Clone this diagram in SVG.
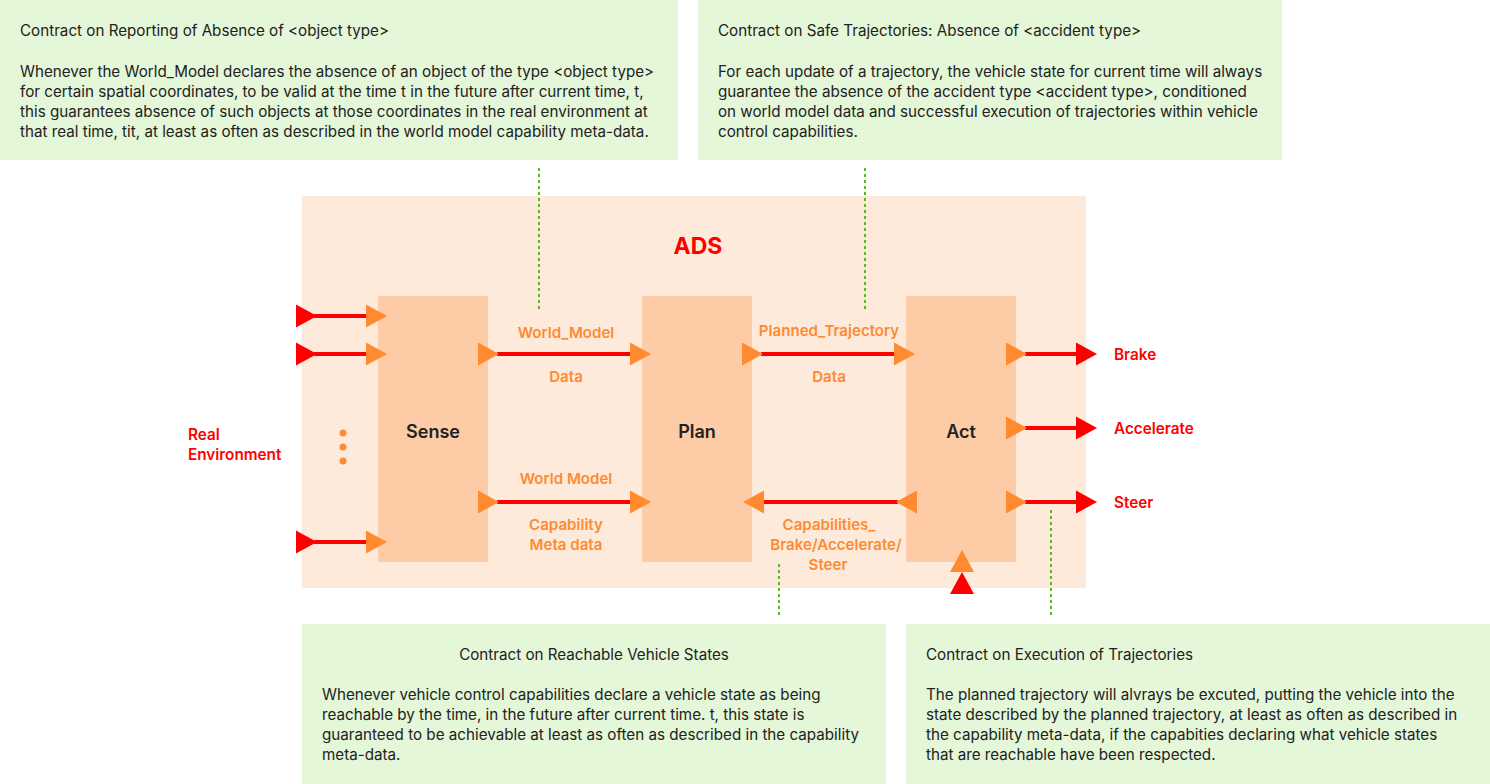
<svg xmlns="http://www.w3.org/2000/svg" xmlns:xlink="http://www.w3.org/1999/xlink" width="1490" height="784" viewBox="0 0 1490 784">
<style>
.note{fill:#e4f7d8}
.ntx{font-family:Inter,"Noto Sans","Liberation Sans",sans-serif;font-size:15.2px;fill:#222222}
.outer{fill:#fdeadb}
.blk{fill:#fdcba5}
.blab{font-family:Inter,"Noto Sans","Liberation Sans",sans-serif;font-size:18px;font-weight:600;fill:#222222;text-anchor:middle}
.olab{font-family:Inter,"Noto Sans","Liberation Sans",sans-serif;font-size:15.1px;font-weight:600;fill:#ff8a30;text-anchor:middle}
.rlab{font-family:Inter,"Noto Sans","Liberation Sans",sans-serif;font-size:15.3px;font-weight:600;fill:#ff0000}
.ln{stroke:#ff0000;stroke-width:4;fill:none}
.dot{stroke:#5cb82a;stroke-width:2;stroke-dasharray:3 3;fill:none}
.or{fill:#ff8a30}
.rd{fill:#ff0000}
</style>
<defs>
<path id="tR" d="M0,-11.5 L21,0 L0,11.5 Z"/>
<path id="tL" d="M0,-11.5 L-21,0 L0,11.5 Z"/>
<path id="tU" d="M-12,0 L0,-22 L12,0 Z"/>
</defs>

<g id="contract-reporting">
<rect class="note" x="0" y="0" width="678" height="160"/>
<text class="ntx" x="20" y="36">Contract on Reporting of Absence of &lt;object type&gt;</text>
<text class="ntx" x="20" y="77">Whenever the World_Model declares the absence of an object of the type &lt;object type&gt;</text>
<text class="ntx" x="20" y="97">for certain spatial coordinates, to be valid at the time t in the future after current time, t,</text>
<text class="ntx" x="20" y="117">this guarantees absence of such objects at those coordinates in the real environment at</text>
<text class="ntx" x="20" y="137">that real time, tit, at least as often as described in the world model capability meta-data.</text>
</g>

<g id="contract-safe">
<rect class="note" x="698" y="0" width="584" height="160"/>
<text class="ntx" x="718" y="36">Contract on Safe Trajectories: Absence of &lt;accident type&gt;</text>
<text class="ntx" x="718" y="77">For each update of a trajectory, the vehicle state for current time will always</text>
<text class="ntx" x="718" y="97">guarantee the absence of the accident type &lt;accident type&gt;, conditioned</text>
<text class="ntx" x="718" y="117">on world model data and successful execution of trajectories within vehicle</text>
<text class="ntx" x="718" y="137">control capabilities.</text>
</g>

<g id="contract-reachable">
<rect class="note" x="302" y="624" width="584" height="160"/>
<text class="ntx" x="594" y="660" text-anchor="middle">Contract on Reachable Vehicle States</text>
<text class="ntx" x="322" y="700">Whenever vehicle control capabilities declare a vehicle state as being</text>
<text class="ntx" x="322" y="720">reachable by the time, in the future after current time. t, this state is</text>
<text class="ntx" x="322" y="740">guaranteed to be achievable at least as often as described in the capability</text>
<text class="ntx" x="322" y="760">meta-data.</text>
</g>

<g id="contract-execution">
<rect class="note" x="906" y="624" width="584" height="160"/>
<text class="ntx" x="926" y="660">Contract on Execution of Trajectories</text>
<text class="ntx" x="926" y="700">The planned trajectory will alvrays be excuted, putting the vehicle into the</text>
<text class="ntx" x="926" y="720">state described by the planned trajectory, at least as often as described in</text>
<text class="ntx" x="926" y="740">the capability meta-data, if the capabities declaring what vehicle states</text>
<text class="ntx" x="926" y="760">that are reachable have been respected.</text>
</g>

<g id="ads">
<rect class="outer" x="302" y="196" width="784" height="392"/>
<text x="698" y="254" text-anchor="middle" style="font-family:Inter,'Noto Sans','Liberation Sans',sans-serif;font-size:23px;font-weight:700;fill:#ff0000">ADS</text>
</g>

<g id="sense">
<rect class="blk" x="378" y="296" width="110" height="266"/>
<text class="blab" x="433" y="438">Sense</text>
</g>
<g id="plan">
<rect class="blk" x="642" y="296" width="110" height="266"/>
<text class="blab" x="697" y="438">Plan</text>
</g>
<g id="act">
<rect class="blk" x="906" y="296" width="110" height="266"/>
<text class="blab" x="961" y="438">Act</text>
</g>

<g id="real-environment">
<text class="rlab" x="188" y="440">Real</text>
<text class="rlab" x="188" y="460">Environment</text>
</g>

<g id="outputs">
<text class="rlab" x="1114" y="360">Brake</text>
<text class="rlab" x="1114" y="434">Accelerate</text>
<text class="rlab" x="1114" y="508">Steer</text>
</g>

<g id="connectors">
<!-- inputs -->
<line class="ln" x1="314" y1="316" x2="367" y2="316"/>
<use href="#tR" class="rd" x="296" y="316"/>
<use href="#tR" class="or" x="366" y="316"/>
<line class="ln" x1="314" y1="354" x2="367" y2="354"/>
<use href="#tR" class="rd" x="296" y="354"/>
<use href="#tR" class="or" x="366" y="354"/>
<line class="ln" x1="314" y1="542" x2="367" y2="542"/>
<use href="#tR" class="rd" x="296" y="542"/>
<use href="#tR" class="or" x="366" y="542"/>
<circle class="or" cx="343" cy="433" r="3.5"/>
<circle class="or" cx="343" cy="447" r="3.5"/>
<circle class="or" cx="343" cy="461" r="3.5"/>

<!-- Sense to Plan: World_Model Data -->
<line class="ln" x1="497" y1="354" x2="632" y2="354"/>
<use href="#tR" class="or" x="478" y="354"/>
<use href="#tR" class="or" x="630" y="354"/>
<text class="olab" x="566" y="338">World_Model</text>
<text class="olab" x="566" y="382">Data</text>

<!-- Sense to Plan: World Model Capability Meta data -->
<line class="ln" x1="497" y1="502" x2="632" y2="502"/>
<use href="#tR" class="or" x="478" y="502"/>
<use href="#tR" class="or" x="630" y="502"/>
<text class="olab" x="566" y="484">World Model</text>
<text class="olab" x="566" y="530">Capability</text>
<text class="olab" x="566" y="550">Meta data</text>

<!-- Plan to Act: Planned_Trajectory Data -->
<line class="ln" x1="761" y1="354" x2="896" y2="354"/>
<use href="#tR" class="or" x="742" y="354"/>
<use href="#tR" class="or" x="894" y="354"/>
<text class="olab" x="829" y="336">Planned_Trajectory</text>
<text class="olab" x="829" y="382">Data</text>

<!-- Act to Plan: Capabilities -->
<line class="ln" x1="762" y1="502" x2="898" y2="502"/>
<use href="#tL" class="or" x="764" y="502"/>
<use href="#tL" class="or" x="917" y="502"/>
<text class="olab" x="829" y="530">Capabilities_</text>
<text class="olab" x="836" y="550">Brake/Accelerate/</text>
<text class="olab" x="828" y="570">Steer</text>

<!-- Act outputs -->
<line class="ln" x1="1025" y1="354" x2="1078" y2="354"/>
<use href="#tR" class="or" x="1006" y="354"/>
<use href="#tR" class="rd" x="1076" y="354"/>
<line class="ln" x1="1025" y1="428" x2="1078" y2="428"/>
<use href="#tR" class="or" x="1006" y="428"/>
<use href="#tR" class="rd" x="1076" y="428"/>
<line class="ln" x1="1025" y1="502" x2="1078" y2="502"/>
<use href="#tR" class="or" x="1006" y="502"/>
<use href="#tR" class="rd" x="1076" y="502"/>

<!-- Act bottom input -->
<use href="#tU" class="or" x="962" y="572"/>
<use href="#tU" class="rd" x="962" y="594"/>

<!-- contract links -->
<line class="dot" x1="539" y1="168" x2="539" y2="310"/>
<line class="dot" x1="865" y1="168" x2="865" y2="310"/>
<line class="dot" x1="779" y1="564" x2="779" y2="616"/>
<line class="dot" x1="1051" y1="510" x2="1051" y2="616"/>
</g>
</svg>
